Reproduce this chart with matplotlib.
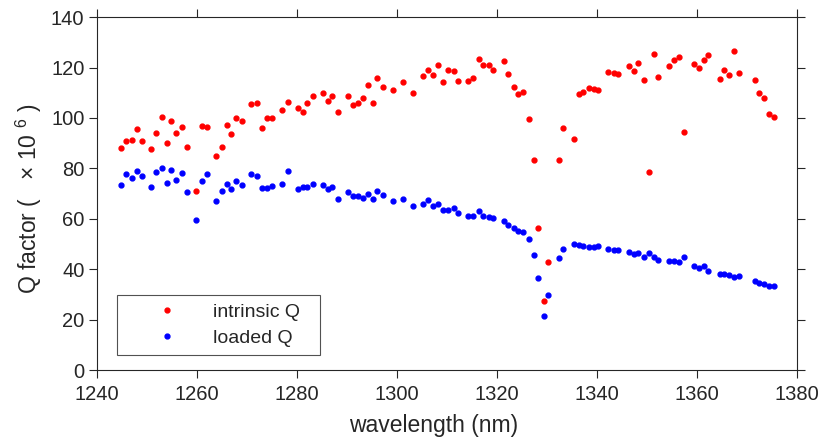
from matplotlib import pyplot as plt
import numpy as np

plt.rcParams['font.family'] = ['Liberation Sans', 'DejaVu Sans']
plt.rcParams['mathtext.fontset'] = 'custom'
plt.rcParams['mathtext.rm'] = 'Liberation Sans'
plt.rcParams['mathtext.it'] = 'Liberation Sans'

# wavelengths (nm)
wl = [1244.9, 1245.9, 1247.0, 1248.1, 1249.1, 1250.9, 1251.9, 1253.0, 1254.1, 1254.9,
      1255.9, 1257.0, 1258.1, 1259.9, 1261.0, 1262.1, 1263.9, 1265.0, 1266.1, 1266.9,
      1267.9, 1269.1, 1270.9, 1272.1, 1273.1, 1274.0, 1275.1,
      1277.0, 1278.1, 1280.1, 1281.1, 1282.0, 1283.1, 1285.1, 1286.1, 1287.0, 1288.1,
      1290.1, 1291.2, 1292.1, 1293.2, 1294.1, 1295.2, 1296.0, 1297.2, 1299.2, 1301.1,
      1303.1, 1305.2, 1306.1, 1307.2, 1308.1, 1309.2, 1310.1,
      1311.3, 1312.2, 1314.2, 1315.1, 1316.3, 1317.1, 1318.3, 1319.2, 1321.3, 1322.1,
      1323.3, 1324.2, 1325.1, 1326.3, 1327.3, 1328.1, 1329.3, 1330.2, 1332.3, 1333.2,
      1335.3, 1336.3, 1337.1, 1338.3, 1339.3, 1340.2, 1342.2, 1343.3, 1344.2,
      1346.3, 1347.3, 1348.2, 1349.4, 1350.3, 1351.3, 1352.2, 1354.4, 1355.3, 1356.3,
      1357.3, 1359.4, 1360.3, 1361.3, 1362.2, 1364.5, 1365.4, 1366.4, 1367.3, 1368.3,
      1371.5, 1372.4, 1373.4, 1374.3, 1375.3]

q_int = [88.2, 91.0, 91.1, 95.6, 91.0, 87.8, 94.0, 100.4, 90.2, 98.6,
         94.1, 96.5, 88.3, 70.9, 96.8, 96.3, 84.9, 88.5, 97.2, 93.7,
         99.8, 98.9, 105.5, 105.8, 96.0, 100.0, 100.0,
         103.3, 106.4, 103.9, 102.2, 106.0, 108.6, 109.7, 106.8, 108.7, 102.5,
         108.7, 105.2, 106.0, 108.0, 113.2, 106.0, 115.8, 112.4, 110.9, 114.2,
         109.7, 116.6, 119.0, 116.9, 120.8, 114.1, 119.0,
         118.5, 114.8, 114.5, 115.8, 123.5, 120.8, 121.1, 119.1, 122.4, 117.3,
         112.4, 109.5, 110.1, 99.7, 83.2, 56.5, 27.5, 42.8, 83.2, 96.1,
         91.8, 109.3, 110.1, 111.7, 111.3, 111.2, 118.1, 117.9, 117.5,
         120.6, 118.7, 121.6, 115.0, 78.4, 125.3, 116.1, 120.6, 123.0, 124.3,
         94.3, 121.4, 119.8, 123.1, 124.9, 115.4, 119.0, 117.1, 126.7, 117.7,
         115.0, 109.8, 108.0, 101.5, 100.2]

q_load = [73.5, 77.7, 76.3, 78.9, 77.0, 72.7, 78.4, 80.0, 74.3, 79.2,
          75.4, 78.3, 70.6, 59.4, 75.1, 77.6, 67.0, 71.0, 74.0, 71.9,
          75.1, 73.4, 77.6, 77.1, 72.2, 72.2, 73.1,
          73.9, 78.8, 71.8, 72.5, 72.6, 73.7, 73.5, 71.7, 72.6, 67.7,
          70.5, 69.0, 68.9, 68.3, 69.9, 67.7, 70.9, 69.4, 67.2, 67.7,
          65.2, 65.7, 67.4, 65.2, 65.7, 63.5, 63.5,
          64.1, 62.3, 61.1, 61.1, 63.1, 61.0, 60.6, 60.3, 59.0, 57.6,
          56.2, 55.3, 54.9, 51.8, 45.7, 36.7, 21.5, 29.9, 44.5, 47.9,
          49.9, 49.6, 49.2, 48.8, 48.7, 49.3, 48.1, 47.5, 47.5,
          46.9, 46.0, 46.3, 44.8, 46.3, 44.8, 43.5, 43.2, 43.4, 42.8,
          44.8, 41.3, 40.5, 41.1, 39.3, 38.1, 38.1, 37.8, 37.0, 37.2,
          35.4, 34.6, 34.1, 33.2, 33.3]

dark = '#262626'

fig = plt.figure(figsize=(8.22, 4.38), dpi=100)
ax = fig.add_axes([0.118, 0.155, 0.8516, 0.806])

ax.plot(wl, q_int, '.', color='red', ms=7, label='intrinsic Q')
ax.plot(wl, q_load, '.', color='blue', ms=7, label='loaded Q')

ax.set_xlim(1240, 1380)
ax.set_ylim(0, 140)
ax.set_xticks(np.arange(1240, 1381, 20))
ax.set_yticks(np.arange(0, 141, 20))

for s in ax.spines.values():
    s.set_color(dark)
    s.set_linewidth(0.8)
ax.tick_params(direction='out', length=5.5, width=0.8, colors=dark,
               labelsize=14.5, top=True, right=True)
ax.tick_params(axis='x', pad=5.5)

ax.set_xlabel('wavelength (nm)', fontsize=16.5, color=dark, labelpad=5)
ax.xaxis.set_label_coords(0.481, -0.125)
ax.set_ylabel(r'Q factor (   $\times$ 10 $^{6}$ )', fontsize=16.5, color=dark)
ax.yaxis.set_label_coords(-0.075, 0.484)

leg = ax.legend(loc='lower left', bbox_to_anchor=(0.0286, 0.0416, 0.29, 0.17),
                mode='expand', borderaxespad=0,
                fontsize=14, frameon=True, fancybox=False, handlelength=4.2,
                handletextpad=0.3, borderpad=0.45, labelspacing=0.42)
leg.get_frame().set_edgecolor(dark)
leg.get_frame().set_linewidth(0.8)
for t in leg.get_texts():
    t.set_color(dark)

fig.savefig('out.png', dpi=100)
